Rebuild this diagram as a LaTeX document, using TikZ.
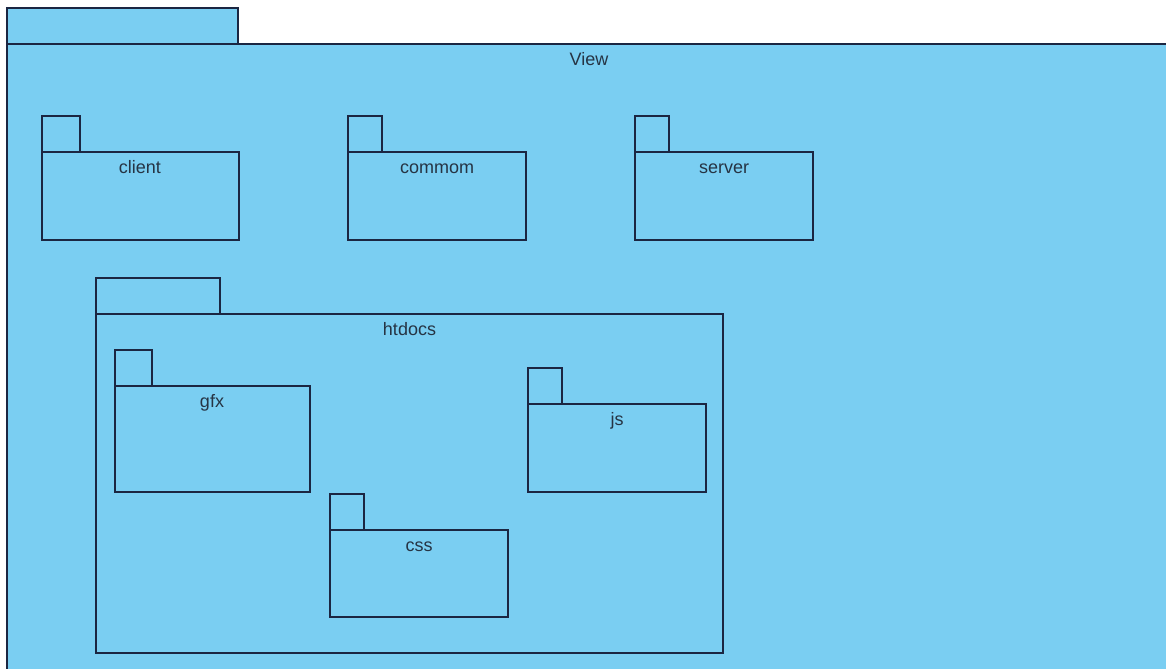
\documentclass[tikz,border=0pt]{standalone}
\usepackage{fontspec}
\setmainfont{Liberation Sans}
\usepackage{xcolor}

\definecolor{pkgblue}{RGB}{122,206,242}
\definecolor{pkgline}{RGB}{27,38,66}
\definecolor{pkgtext}{RGB}{38,52,68}

\tikzset{
  pkg/.style={draw=pkgline, fill=pkgblue, line width=1pt},
  pkgname/.style={anchor=base, inner sep=0pt, text=pkgtext,
    font=\fontsize{13.5}{16}\selectfont}
}

\begin{document}
\begin{tikzpicture}[x=0.75pt, y=-0.75pt]
  \useasboundingbox (0,0) rectangle (1166,668);
  % outer package, runs past the page edge
  \begin{scope}
    \clip (0,0) rectangle (1166,668);
    \draw[pkg] (7,8) rectangle (238,44);
    \draw[pkg] (7,44) rectangle (1180,690);
  \end{scope}
  \node[pkgname] (view) at (589,65) {View};

  % top row
  \draw[pkg] (42,116) rectangle (80,152);
  \draw[pkg] (42,152) rectangle (239,240);
  \node[pkgname] (client) at (140,173) {client};

  \draw[pkg] (348,116) rectangle (382,152);
  \draw[pkg] (348,152) rectangle (526,240);
  \node[pkgname] (commom) at (437,173) {commom};

  \draw[pkg] (635,116) rectangle (669,152);
  \draw[pkg] (635,152) rectangle (813,240);
  \node[pkgname] (server) at (724,173) {server};

  % htdocs and its packages
  \draw[pkg] (96,278) rectangle (220,314);
  \draw[pkg] (96,314) rectangle (723,653);
  \node[pkgname] (htdocs) at (409.5,335) {htdocs};

  \draw[pkg] (115,350) rectangle (152,386);
  \draw[pkg] (115,386) rectangle (310,492);
  \node[pkgname] (gfx) at (212,407) {gfx};

  \draw[pkg] (528,368) rectangle (562,404);
  \draw[pkg] (528,404) rectangle (706,492);
  \node[pkgname] (js) at (617,425) {js};

  \draw[pkg] (330,494) rectangle (364,530);
  \draw[pkg] (330,530) rectangle (508,617);
  \node[pkgname] (css) at (419,551) {css};
\end{tikzpicture}
\end{document}
